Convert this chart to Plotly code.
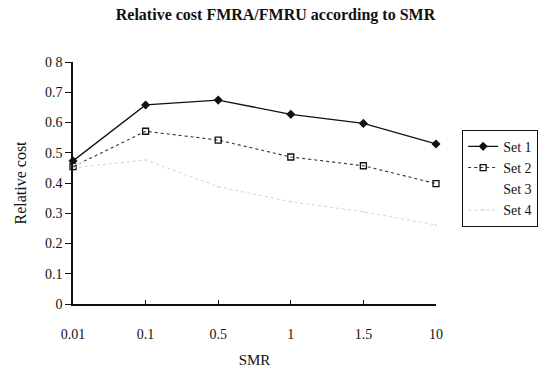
import plotly.graph_objects as go

smr = ["0.01", "0.1", "0.5", "1", "1.5", "10"]
set1 = [0.473, 0.658, 0.674, 0.627, 0.597, 0.529]
set2 = [0.454, 0.571, 0.542, 0.486, 0.457, 0.398]
set3 = [0.46, 0.52, 0.47, 0.41, 0.38, 0.33]
set4 = [0.45, 0.476, 0.388, 0.338, 0.305, 0.261]
y_ticks = [0, 0.1, 0.2, 0.3, 0.4, 0.5, 0.6, 0.7, 0.8]
y_labels = ["0", "0.1", "0.2", "0.3", "0.4", "0.5", "0.6", "0.7", "0 8"]

FONT = "Liberation Serif, Times New Roman, serif"

fig = go.Figure()
fig.add_trace(go.Scatter(x=smr, y=set1, name="Set 1", mode="lines+markers",
                         line=dict(color="#111111", width=1.3),
                         marker=dict(symbol="diamond", size=7, color="#111111"),
                         cliponaxis=False))
fig.add_trace(go.Scatter(x=smr, y=set2, name="Set 2", mode="lines+markers",
                         line=dict(color="#333333", width=1.1, dash="dot"),
                         marker=dict(symbol="square-open", size=6, color="#111111",
                                     line=dict(width=1.3)),
                         cliponaxis=False))
fig.add_trace(go.Scatter(x=smr, y=set3, name="Set 3", mode="lines",
                         line=dict(color="#ffffff", width=1),
                         cliponaxis=False))
fig.add_trace(go.Scatter(x=smr, y=set4, name="Set 4", mode="lines+markers",
                         line=dict(color="#d4d4d4", width=1, dash="dot"),
                         marker=dict(symbol="triangle-up", size=3, color="#dddddd"),
                         cliponaxis=False))

fig.update_layout(
    width=551, height=374,
    margin=dict(l=73, r=115, t=62, b=70),
    paper_bgcolor="white", plot_bgcolor="white",
    font=dict(family=FONT, size=14, color="#111111"),
    title=dict(text="<b>Relative cost FMRA/FMRU according to SMR</b>",
               x=0.5, xanchor="center", y=0.962, yanchor="middle",
               font=dict(family=FONT, size=16)),
    showlegend=True,
    legend=dict(x=1.072, xanchor="left", y=0.72, yanchor="top",
                bordercolor="#111111", borderwidth=1, bgcolor="white",
                font=dict(family=FONT, size=14), tracegroupgap=0,
                itemwidth=30),
    xaxis=dict(type="category", range=[0, 5], showgrid=False, automargin=False,
               showline=True, linecolor="#111111", linewidth=1.5,
               ticks="inside", ticklen=4, tickcolor="#111111",
               ticklabelstandoff=16,
               title=dict(text="SMR", standoff=14,
                          font=dict(family=FONT, size=15)),
               tickfont=dict(family=FONT, size=14), zeroline=False),
    yaxis=dict(range=[0, 0.8], tickvals=y_ticks, ticktext=y_labels,
               showgrid=False, showline=True, linecolor="#111111", linewidth=1.5,
               automargin=False,
               ticks="outside", ticklen=6, tickcolor="#111111", tickwidth=1,
               title=dict(text="Relative cost", standoff=14,
                          font=dict(family=FONT, size=16)),
               tickfont=dict(family=FONT, size=14), zeroline=False),
)

fig.write_html("out.html")
